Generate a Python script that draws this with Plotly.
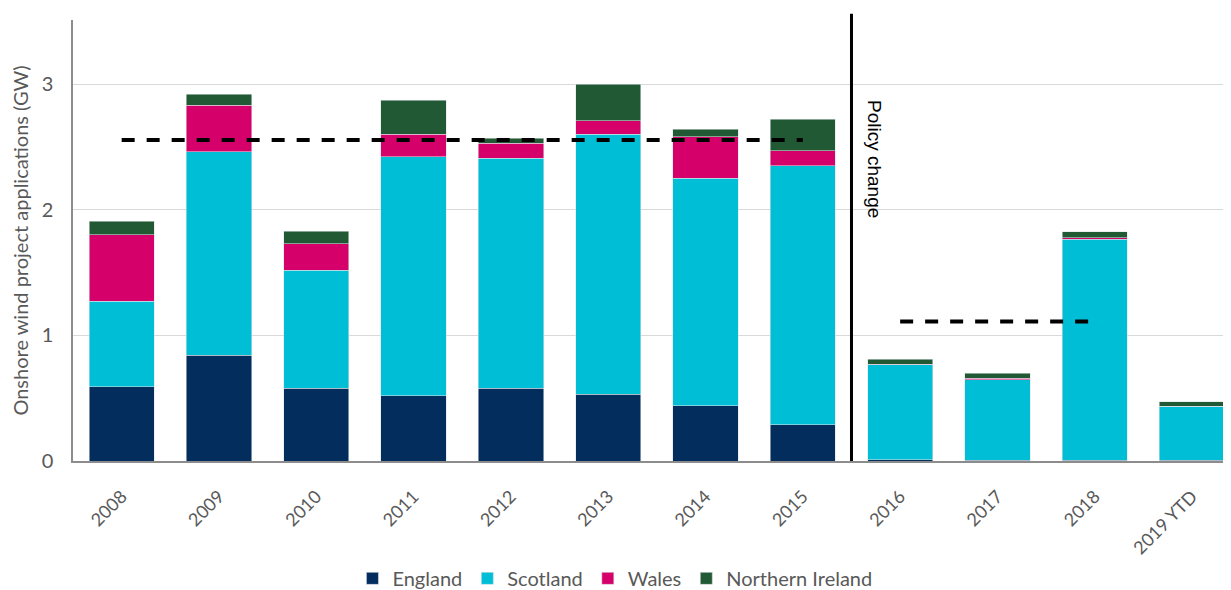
import plotly.graph_objects as go

years = ["2008", "2009", "2010", "2011", "2012", "2013", "2014", "2015",
         "2016", "2017", "2018", "2019 YTD"]
england = [0.59, 0.84, 0.58, 0.52, 0.58, 0.53, 0.44, 0.29, 0.01, 0.005, 0.005, 0.005]
scotland = [0.68, 1.62, 0.94, 1.90, 1.83, 2.07, 1.81, 2.06, 0.755, 0.64, 1.76, 0.43]
wales = [0.53, 0.37, 0.21, 0.18, 0.12, 0.11, 0.33, 0.12, 0.005, 0.015, 0.01, 0.0]
northern_ireland = [0.11, 0.09, 0.10, 0.27, 0.04, 0.29, 0.06, 0.25, 0.04, 0.04, 0.05, 0.037]

avg_pre_years = ["2008", "2015"]
avg_pre_value = [2.555, 2.555]
avg_post_years = ["2016", "2018"]
avg_post_value = [1.11, 1.11]

series = [
    ("England", england, "#022D5C"),
    ("Scotland", scotland, "#00BED6"),
    ("Wales", wales, "#D6006B"),
    ("Northern Ireland", northern_ireland, "#225935"),
]

fig = go.Figure()
for name, vals, col in series:
    fig.add_trace(go.Bar(
        x=years, y=vals, name=name,
        marker=dict(color=col, line=dict(color="rgba(220,225,230,0.9)", width=0.6)),
        width=0.67,
    ))

for xs, ys in [(avg_pre_years, avg_pre_value), (avg_post_years, avg_post_value)]:
    fig.add_trace(go.Scatter(
        x=xs, y=ys, mode="lines", showlegend=False, hoverinfo="skip",
        line=dict(color="black", width=4, dash="13px,12px"),
    ))

fig.add_shape(type="line", xref="x", yref="paper", x0=7.5, x1=7.5, y0=0, y1=1.014,
              line=dict(color="black", width=3))
fig.add_annotation(x=7.5, xref="x", y=2.4, yref="y", xshift=23, text="Policy change",
                   textangle=90, showarrow=False,
                   font=dict(family="Liberation Sans, Arial", size=19, color="black"))

# page has an 8px body margin, so the figure is 1223x582 and offset by 8px
fig.update_layout(
    barmode="stack",
    width=1223, height=582,
    margin=dict(l=65, r=0, t=12, b=129),
    plot_bgcolor="white", paper_bgcolor="white",
    font=dict(family="Lato, sans-serif", color="#595959", size=18),
    legend=dict(orientation="h", x=0.468, xanchor="center",
                yref="container", y=0.02, yanchor="middle",
                font=dict(size=20, color="#595959"), traceorder="normal",
                itemwidth=30),
    xaxis=dict(type="category", range=[-0.5, 11.4], tickangle=-45, automargin=False,
               tickfont=dict(size=18, color="#595959"), showline=True,
               linecolor="#8C8C8C", linewidth=2, ticks="", ticklabelstandoff=16),
    yaxis=dict(range=[0, 3.51], tickvals=[0, 1, 2, 3], showgrid=True, automargin=False,
               gridcolor="#D9D9D9", gridwidth=1, showline=True, linecolor="#8C8C8C",
               linewidth=1.5, zeroline=False, tickfont=dict(size=20, color="#595959"),
               ticklabelstandoff=14,
               title=dict(text="Onshore wind project applications (GW)", standoff=12,
                          font=dict(size=20, color="#595959"))),
)

fig.write_html("out.html")
